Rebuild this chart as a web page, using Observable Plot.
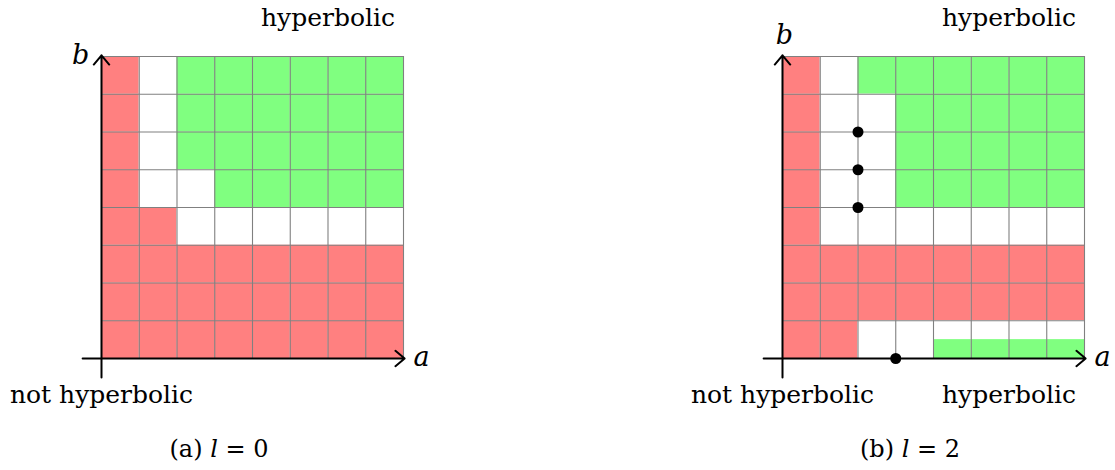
<!DOCTYPE html>
<html>
<head>
<meta charset="utf-8">
<script src="https://cdn.jsdelivr.net/npm/d3@7"></script>
<script src="https://cdn.jsdelivr.net/npm/@observablehq/plot@0.6"></script>
<style>
  html, body { margin: 0; padding: 0; background: #fff; }
  #root { position: relative; width: 1115px; height: 470px; overflow: hidden; font-family: "DejaVu Serif", serif; }
  .panel { position: absolute; top: 0; }
  .panel svg { display: block; }
  .cap { position: absolute; top: 435px; font-size: 24px; white-space: nowrap; transform: translateX(-50%); color: #000; }
</style>
</head>
<body>
<div id="root">
  <div class="panel" id="pa"></div>
  <div class="panel" id="pb"></div>
</div>
<script>
// Grid states, one string per row from b = 7 (top) down to b = 0.
// n = not hyperbolic, u = undecided, h = hyperbolic, s = lower half hyperbolic
const statesL0 = [
  "nuhhhhhh",
  "nuhhhhhh",
  "nuhhhhhh",
  "nuuhhhhh",
  "nnuuuuuu",
  "nnnnnnnn",
  "nnnnnnnn",
  "nnnnnnnn"
];
const statesL2 = [
  "nuhhhhhh",
  "nuuhhhhh",
  "nuuhhhhh",
  "nuuhhhhh",
  "nuuuuuuu",
  "nnnnnnnn",
  "nnnnnnnn",
  "nnuussss"
];

// Marked lattice points for l = 2
const dotA = [2, 2, 2, 3];
const dotB = [4, 5, 6, 0];

const captions = ["(a) <i>l</i> = 0", "(b) <i>l</i> = 2"];

const RED = "#ff8080", GREEN = "#80ff80";
const FONT = "DejaVu Serif";
const FS = 25;

function cellsFrom(states) {
  const cells = [];
  states.forEach((row, r) => {
    [...row].forEach((s, c) => {
      cells.push({a: c, b: states.length - 1 - r, s});
    });
  });
  return cells;
}

function panel({states, dots, width, marginLeft, bLabel, extraTexts}) {
  const cells = cellsFrom(states);
  const halves = cells.filter(d => d.s === "s");
  const ticks = d3.range(0, 9);
  return Plot.plot({
    width,
    height: 425,
    marginLeft,
    marginRight: width - marginLeft - 302,
    marginTop: 56,
    marginBottom: 67,
    x: {domain: [0, 8], axis: null},
    y: {domain: [0, 8], axis: null},
    color: {domain: ["n", "u", "h", "s"], range: [RED, "#ffffff", GREEN, "#ffffff"]},
    style: {fontFamily: FONT, background: "transparent", overflow: "visible"},
    marks: [
      Plot.rect(cells, {x1: "a", x2: d => d.a + 1, y1: "b", y2: d => d.b + 1, fill: "s"}),
      Plot.rect(halves, {x1: "a", x2: d => d.a + 1, y1: "b", y2: d => d.b + 0.5, fill: GREEN}),
      Plot.ruleX(ticks, {x: d => d, y1: 0, y2: 8, stroke: "#808080", strokeWidth: 1.1}),
      Plot.ruleY(ticks, {y: d => d, x1: 0, x2: 8, stroke: "#808080", strokeWidth: 1.1}),
      Plot.arrow([{x1: -0.5, y1: 0, x2: 8.03, y2: 0}], {x1: "x1", y1: "y1", x2: "x2", y2: "y2", stroke: "black", strokeWidth: 2, headLength: 9, headAngle: 80}),
      Plot.arrow([{x1: 0, y1: -0.5, x2: 0, y2: 8.03}], {x1: "x1", y1: "y1", x2: "x2", y2: "y2", stroke: "black", strokeWidth: 2, headLength: 9, headAngle: 80}),
      Plot.dot(dots, {x: "a", y: "b", r: 5.5, fill: "black", stroke: "none"}),
      Plot.text(["a"], {x: 8.48, y: 0.02, text: d => d, fontSize: FS + 2, fontStyle: "italic", fill: "black"}),
      Plot.text(["b"], {x: bLabel[0], y: bLabel[1], text: d => d, fontSize: FS + 2, fontStyle: "italic", fill: "black"}),
      Plot.text(["hyperbolic"], {x: 6, y: 9.02, text: d => d, fontSize: FS, fill: "black"}),
      Plot.text(["not hyperbolic"], {x: 0, y: -0.97, text: d => d, fontSize: FS, fill: "black"}),
      Plot.text(extraTexts, {x: "a", y: "b", text: "t", fontSize: FS, fill: "black"})
    ]
  });
}

const pa = document.getElementById("pa");
const pb = document.getElementById("pb");
pa.style.left = "0px";
pb.style.left = "557px";

pa.appendChild(panel({
  states: statesL0, dots: [], width: 557, marginLeft: 101,
  bLabel: [-0.55, 8.02], extraTexts: []
}));
pb.appendChild(panel({
  states: statesL2,
  dots: dotA.map((a, i) => ({a, b: dotB[i]})),
  width: 558, marginLeft: 225,
  bLabel: [0.05, 8.55],
  extraTexts: [{a: 6, b: -0.97, t: "hyperbolic"}]
}));

const capCenters = [219, 910];
captions.forEach((html, i) => {
  const el = document.createElement("div");
  el.className = "cap";
  el.innerHTML = html;
  el.style.left = capCenters[i] + "px";
  document.getElementById("root").appendChild(el);
});
</script>
</body>
</html>
